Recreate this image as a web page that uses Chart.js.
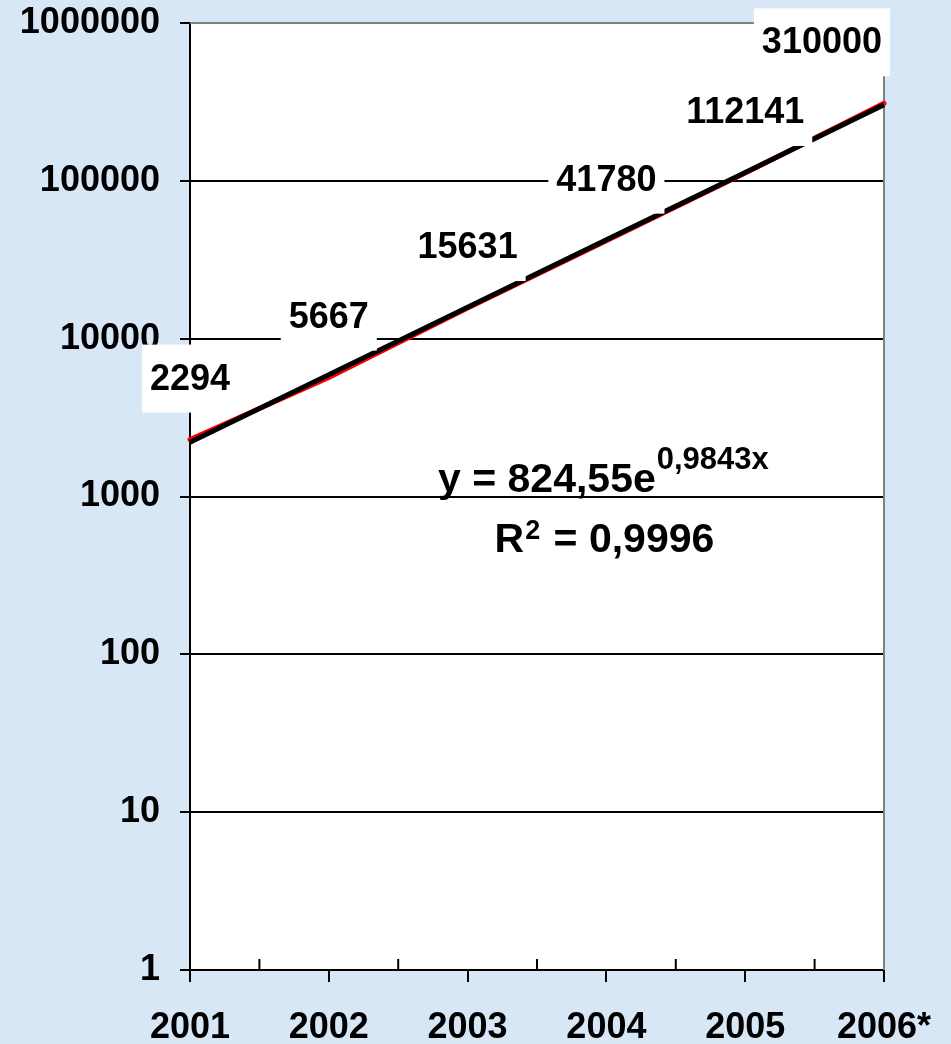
<!DOCTYPE html>
<html>
<head>
<meta charset="utf-8">
<script src="https://cdn.jsdelivr.net/npm/chart.js@4"></script>
<style>
  html, body { margin: 0; padding: 0; background: #d8e7f6; }
  #chart { display: block; }
</style>
</head>
<body>
<canvas id="chart" width="951" height="1044"></canvas>
<script>
// Chart values
const years = ['2001', '2002', '2003', '2004', '2005', '2006*'];
const users = [2294, 5667, 15631, 41780, 112141, 310000];
const trend = [2210, 5900, 15800, 42300, 113000, 303000];
const yTicks = [1, 10, 100, 1000, 10000, 100000, 1000000];
const eqMain = 'y = 824,55e';
const eqExp = '0,9843x';
const r2Main = 'R';
const r2Exp = '2';
const r2Rest = ' = 0,9996';

const FONT = "'Liberation Sans', Arial, sans-serif";

// Page background and white plot area
const backgroundPlugin = {
    id: 'background',
    beforeDraw(chart) {
        const ctx = chart.ctx;
        const a = chart.chartArea;
        ctx.save();
        ctx.fillStyle = '#d8e7f6';
        ctx.fillRect(0, 0, chart.width, chart.height);
        ctx.fillStyle = '#ffffff';
        ctx.fillRect(a.left, a.top, a.right - a.left, a.bottom - a.top);
        ctx.restore();
    }
};

// Grey top/right frame and the small inner ticks between the years
const framePlugin = {
    id: 'frame',
    beforeDatasetsDraw(chart) {
        const ctx = chart.ctx;
        const a = chart.chartArea;
        const x = chart.scales.x;
        ctx.save();
        ctx.strokeStyle = '#808080';
        ctx.lineWidth = 2;
        ctx.beginPath();
        ctx.moveTo(a.left, a.top);
        ctx.lineTo(a.right, a.top);
        ctx.lineTo(a.right, a.bottom);
        ctx.stroke();

        ctx.strokeStyle = '#000000';
        ctx.beginPath();
        for (let i = 0; i < years.length - 1; i++) {
            const mx = (x.getPixelForValue(i) + x.getPixelForValue(i + 1)) / 2;
            ctx.moveTo(mx, a.bottom);
            ctx.lineTo(mx, a.bottom - 11);
        }
        ctx.stroke();
        ctx.restore();
    }
};

// White boxed value labels above the data points
const valueLabelPlugin = {
    id: 'valueLabels',
    afterDatasetsDraw(chart) {
        const ctx = chart.ctx;
        const a = chart.chartArea;
        const meta = chart.getDatasetMeta(0);
        ctx.save();
        ctx.font = 'bold 36px ' + FONT;
        ctx.textAlign = 'center';
        ctx.textBaseline = 'middle';
        meta.data.forEach((pt, i) => {
            const text = String(users[i]);
            const w = ctx.measureText(text).width + 16;
            const h = 68;
            let cx = pt.x;
            if (cx + w / 2 > a.right + 6) cx = a.right + 6 - w / 2;
            const cy = pt.y - 61;
            ctx.fillStyle = '#ffffff';
            ctx.fillRect(cx - w / 2, cy - h / 2, w, h);
            ctx.fillStyle = '#000000';
            ctx.fillText(text, cx, cy + 1);
        });
        ctx.restore();
    }
};

// Trend equation and R squared
const equationPlugin = {
    id: 'equation',
    afterDraw(chart) {
        const ctx = chart.ctx;
        const a = chart.chartArea;
        const cx = a.left + (a.right - a.left) * 0.595;
        const base1 = a.top + (a.bottom - a.top) * 0.4955;
        const base2 = a.top + (a.bottom - a.top) * 0.5585;
        ctx.save();
        ctx.fillStyle = '#000000';
        ctx.textAlign = 'left';
        ctx.textBaseline = 'alphabetic';

        const big = 'bold 41px ' + FONT;
        const sup1 = 'bold 31px ' + FONT;
        const sup2 = 'bold 27px ' + FONT;

        ctx.font = big;
        const w1 = ctx.measureText(eqMain).width;
        ctx.font = sup1;
        const w1s = ctx.measureText(eqExp).width;
        let x0 = cx - (w1 + w1s) / 2;
        ctx.font = big;
        ctx.fillText(eqMain, x0, base1);
        ctx.font = sup1;
        ctx.fillText(eqExp, x0 + w1 + 1, base1 - 23);

        ctx.font = big;
        const wr = ctx.measureText(r2Main).width;
        const wrest = ctx.measureText(r2Rest).width;
        ctx.font = sup2;
        const wrs = ctx.measureText(r2Exp).width;
        x0 = cx - (wr + wrs + wrest) / 2;
        ctx.font = big;
        ctx.fillText(r2Main, x0, base2);
        ctx.font = sup2;
        ctx.fillText(r2Exp, x0 + wr + 1, base2 - 13);
        ctx.font = big;
        ctx.fillText(r2Rest, x0 + wr + wrs + 3, base2);
        ctx.restore();
    }
};

const ctx = document.getElementById('chart').getContext('2d');

new Chart(ctx, {
    type: 'line',
    data: {
        labels: years,
        datasets: [
            {
                label: 'Data',
                data: users,
                borderColor: '#ff0000',
                borderWidth: 5,
                pointRadius: 0,
                tension: 0,
                borderCapStyle: 'round',
                clip: false,
                order: 2
            },
            {
                label: 'Trend',
                data: trend,
                borderColor: '#000000',
                borderWidth: 5,
                pointRadius: 0,
                tension: 0,
                borderCapStyle: 'butt',
                clip: false,
                order: 1
            }
        ]
    },
    options: {
        responsive: false,
        animation: false,
        events: [],
        layout: {
            padding: { top: 23, right: 67, left: 0, bottom: 0 }
        },
        plugins: {
            legend: { display: false },
            tooltip: { enabled: false },
            title: { display: false }
        },
        scales: {
            x: {
                type: 'category',
                offset: false,
                afterFit(scale) {
                    scale.height = 74;
                    scale.paddingLeft = 0;
                    scale.paddingRight = 0;
                },
                border: { display: true, color: '#000000', width: 2 },
                grid: {
                    drawOnChartArea: false,
                    drawTicks: true,
                    tickLength: 12,
                    color: '#000000',
                    lineWidth: 2
                },
                ticks: {
                    color: '#000000',
                    font: { family: FONT, size: 36, weight: 'bold' },
                    padding: 24,
                    maxRotation: 0,
                    autoSkip: false
                }
            },
            y: {
                type: 'logarithmic',
                min: 1,
                max: 1000000,
                afterFit(scale) {
                    scale.width = 190;
                    scale.paddingTop = 0;
                    scale.paddingBottom = 0;
                },
                afterBuildTicks(scale) {
                    scale.ticks = yTicks.map(v => ({ value: v }));
                },
                border: { display: true, color: '#000000', width: 2 },
                grid: {
                    color: '#000000',
                    lineWidth: 2,
                    tickLength: 10
                },
                ticks: {
                    color: '#000000',
                    font: { family: FONT, size: 36, weight: 'bold' },
                    padding: 20,
                    callback: (v) => String(v)
                }
            }
        }
    },
    plugins: [backgroundPlugin, framePlugin, valueLabelPlugin, equationPlugin]
});
</script>
</body>
</html>
